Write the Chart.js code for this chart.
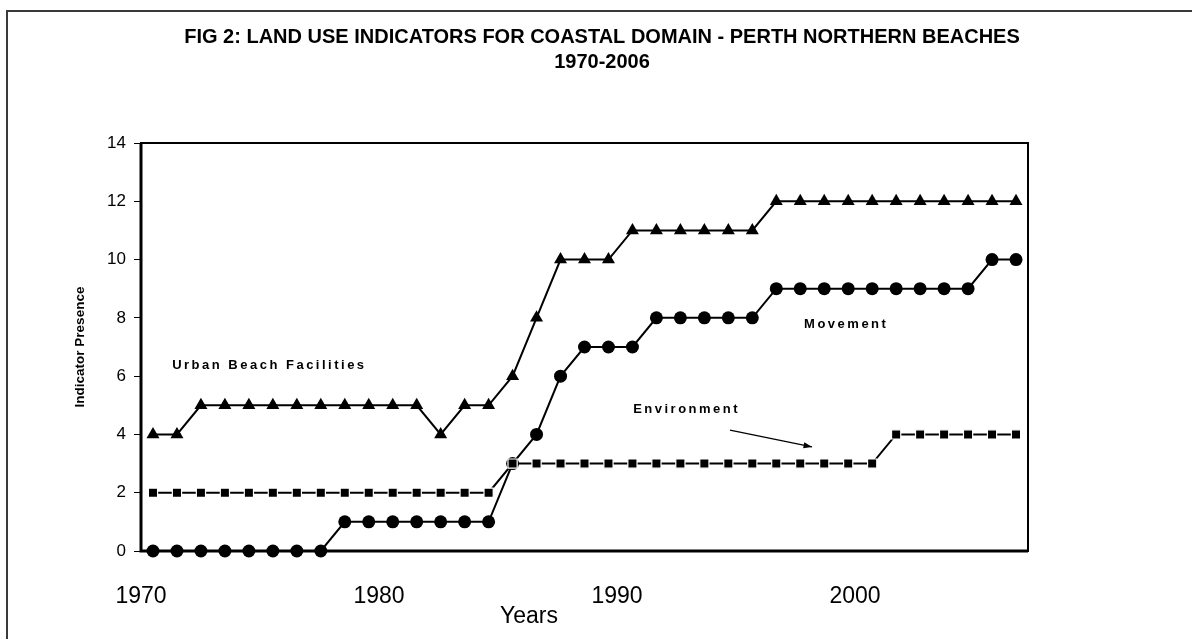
<!DOCTYPE html>
<html>
<head>
<meta charset="utf-8">
<title>Fig 2: Land use indicators - Perth Northern Beaches</title>
<script src="https://cdn.jsdelivr.net/npm/chart.js@4.4.1/dist/chart.umd.min.js"></script>
<style>
  html, body { margin: 0; padding: 0; background: #fff; }
  #wrap { width: 1192px; height: 639px; }
</style>
</head>
<body>
<div id="wrap"><canvas id="landUseChart" width="1192" height="639"></canvas></div>
<script>
const years = [
  1970, 1971, 1972, 1973, 1974, 1975, 1976, 1977, 1978, 1979,
  1980, 1981, 1982, 1983, 1984, 1985, 1986, 1987, 1988, 1989,
  1990, 1991, 1992, 1993, 1994, 1995, 1996, 1997, 1998, 1999,
  2000, 2001, 2002, 2003, 2004, 2005, 2006,
];
const urbanBeach = [
  4, 4, 5, 5, 5, 5, 5, 5, 5, 5,
  5, 5, 4, 5, 5, 6, 8, 10, 10, 10,
  11, 11, 11, 11, 11, 11, 12, 12, 12, 12,
  12, 12, 12, 12, 12, 12, 12,
];
const movement = [
  0, 0, 0, 0, 0, 0, 0, 0, 1, 1,
  1, 1, 1, 1, 1, 3, 4, 6, 7, 7,
  7, 8, 8, 8, 8, 8, 9, 9, 9, 9,
  9, 9, 9, 9, 9, 10, 10,
];
const environment = [
  2, 2, 2, 2, 2, 2, 2, 2, 2, 2,
  2, 2, 2, 2, 2, 3, 3, 3, 3, 3,
  3, 3, 3, 3, 3, 3, 3, 3, 3, 3,
  3, 4, 4, 4, 4, 4, 4,
];
const yearTicks = [1970, 1980, 1990, 2000];

const titleLines = [
  "FIG 2: LAND USE INDICATORS FOR COASTAL DOMAIN - PERTH NORTHERN BEACHES",
  "1970-2006",
];

// labels written on the plot, placed in data units (category index, value)
const notes = [
  { text: "Urban Beach Facilities", at: [0.8, 6.38] },
  { text: "Movement", at: [27.16, 7.76] },
  { text: "Environment", at: [20.03, 4.87] },
];
const arrow = { from: [24.07, 4.15], to: [27.49, 3.57] };

const FONT = "'Liberation Sans', Arial, sans-serif";

const framePlugin = {
  id: "frame",
  beforeDatasetsDraw(chart) {
    const { ctx, chartArea: a } = chart;
    ctx.save();
    ctx.strokeStyle = "#3a3a3a";
    ctx.lineWidth = 2;
    ctx.beginPath();
    ctx.moveTo(7, 700);
    ctx.lineTo(7, 11);
    ctx.lineTo(1300, 11);
    ctx.stroke();

    ctx.strokeStyle = "#000";
    ctx.lineWidth = 2;
    ctx.strokeRect(a.left, a.top, a.right - a.left, a.bottom - a.top);
    ctx.lineWidth = 3;
    ctx.beginPath();
    ctx.moveTo(a.left, a.top);
    ctx.lineTo(a.left, a.bottom);
    ctx.lineTo(a.right, a.bottom);
    ctx.stroke();
    ctx.restore();
  },
  afterDatasetsDraw(chart) {
    const { ctx, scales } = chart;
    const px = (p) => [scales.x.getPixelForValue(p[0]), scales.y.getPixelForValue(p[1])];
    ctx.save();
    ctx.fillStyle = "#000";

    // title
    ctx.font = "bold 20px " + FONT;
    ctx.textAlign = "center";
    ctx.textBaseline = "middle";
    ctx.fillText(titleLines[0], 602, 37);
    ctx.fillText(titleLines[1], 602, 62);

    // x axis title
    ctx.font = "23px " + FONT;
    ctx.fillText("Years", scales.xYear.getPixelForValue(1986.3), 617);

    // notes
    ctx.font = "bold 13px " + FONT;
    ctx.textAlign = "left";
    ctx.letterSpacing = "2.5px";
    notes.forEach((n) => {
      const [x, y] = px(n.at);
      ctx.fillText(n.text, x, y);
    });
    ctx.letterSpacing = "0px";

    // arrow to the environment line
    const [x1, y1] = px(arrow.from);
    const [x2, y2] = px(arrow.to);
    ctx.strokeStyle = "#000";
    ctx.lineWidth = 1.2;
    ctx.beginPath();
    ctx.moveTo(x1, y1);
    ctx.lineTo(x2, y2);
    ctx.stroke();
    const ang = Math.atan2(y2 - y1, x2 - x1);
    ctx.beginPath();
    ctx.moveTo(x2, y2);
    ctx.lineTo(x2 - 9 * Math.cos(ang - 0.35), y2 - 9 * Math.sin(ang - 0.35));
    ctx.lineTo(x2 - 9 * Math.cos(ang + 0.35), y2 - 9 * Math.sin(ang + 0.35));
    ctx.closePath();
    ctx.fill();
    ctx.restore();
  },
};

new Chart(document.getElementById("landUseChart").getContext("2d"), {
  type: "line",
  data: {
    labels: years,
    datasets: [
      {
        label: "Environment",
        data: environment,
        borderColor: "#000",
        borderWidth: 2,
        pointStyle: "rect",
        pointRadius: 6.5,
        pointBackgroundColor: "#000",
        pointBorderColor: "#fff",
        pointBorderWidth: 1.2,
        tension: 0,
        clip: false,
      },
      {
        label: "Movement",
        data: movement,
        borderColor: "#000",
        borderWidth: 2,
        pointStyle: "circle",
        pointRadius: 6.5,
        pointBackgroundColor: "#000",
        pointBorderColor: "#000",
        pointBorderWidth: 0,
        tension: 0,
        clip: false,
      },
      {
        label: "Urban Beach Facilities",
        data: urbanBeach,
        borderColor: "#000",
        borderWidth: 2,
        pointStyle: "triangle",
        pointRadius: 7.5,
        pointBackgroundColor: "#000",
        pointBorderColor: "#000",
        pointBorderWidth: 0,
        tension: 0,
        clip: false,
      },
    ],
  },
  options: {
    responsive: false,
    animation: false,
    devicePixelRatio: 1,
    layout: { padding: { left: 0, right: 164, top: 143, bottom: 0 } },
    plugins: {
      legend: { display: false },
      title: { display: false },
      tooltip: { enabled: false },
    },
    scales: {
      x: {
        type: "category",
        offset: true,
        display: false,
      },
      xYear: {
        type: "linear",
        position: "bottom",
        min: 1970,
        max: 2007.27,
        grid: { display: false },
        border: { display: false },
        afterBuildTicks: (scale) => {
          scale.ticks = yearTicks.map((v) => ({ value: v }));
        },
        afterFit: (scale) => {
          scale.height = 88;
        },
        ticks: {
          padding: 24,
          color: "#000",
          font: { family: FONT, size: 23 },
          callback: (v) => String(v),
        },
      },
      y: {
        min: 0,
        max: 14,
        afterFit: (scale) => {
          scale.width = 141;
        },
        grid: {
          display: true,
          drawOnChartArea: false,
          drawTicks: true,
          tickLength: 7,
          color: "#000",
          lineWidth: 1,
        },
        border: { display: false },
        ticks: {
          stepSize: 2,
          padding: 8,
          color: "#000",
          font: { family: FONT, size: 17 },
        },
        title: {
          display: true,
          text: "Indicator Presence",
          color: "#000",
          font: { family: FONT, size: 13.5, weight: "bold" },
          padding: { top: 72, bottom: 0 },
        },
      },
    },
  },
  plugins: [framePlugin],
});
</script>
</body>
</html>
